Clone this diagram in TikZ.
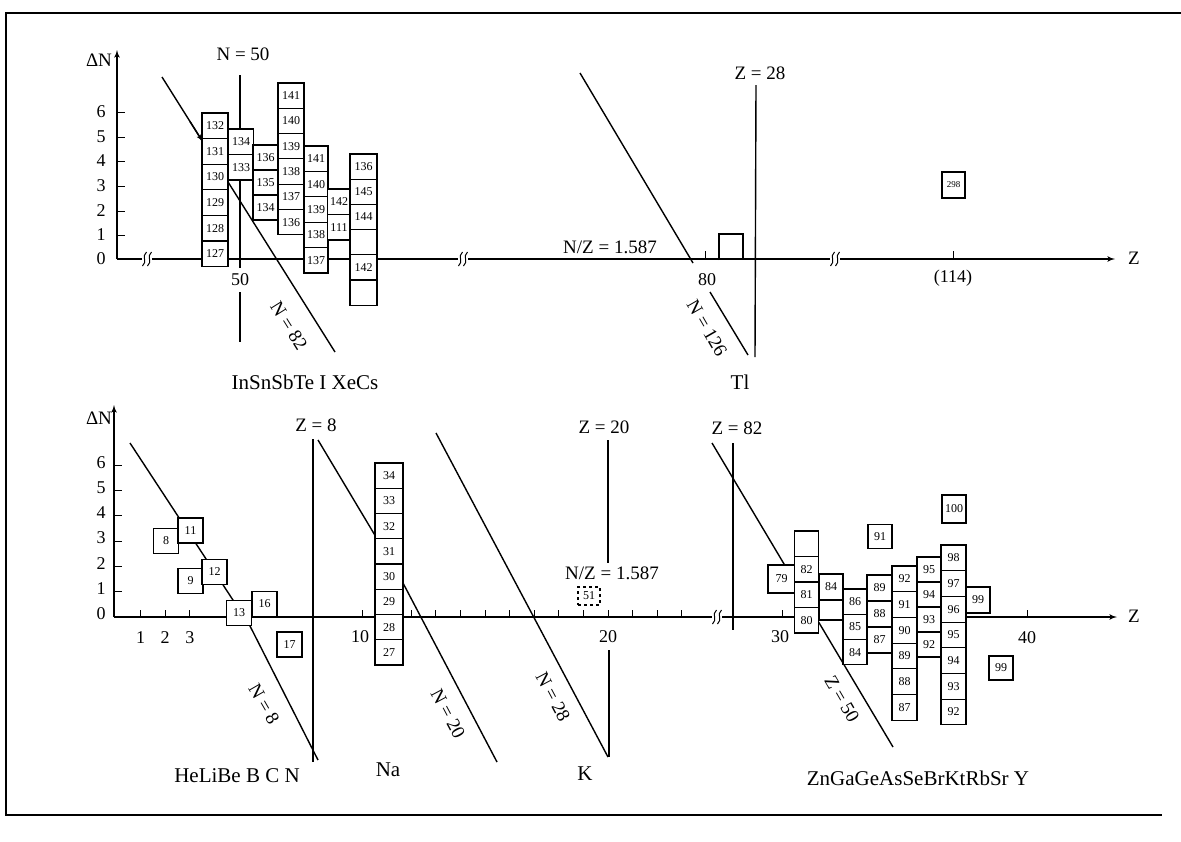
\documentclass[tikz,border=0pt]{standalone}
\usepackage{fontspec}
\setmainfont{Liberation Serif}
\usetikzlibrary{arrows}
\tikzstyle{nuc} = [draw, fill=white, rectangle, line width=1.1pt,
    minimum width=25, minimum height=25, inner sep=0pt, font=\fontsize{12}{12}\selectfont]
\tikzstyle{lbl} = [font=\fontsize{19}{19}\selectfont, inner sep=1pt]
\tikzstyle{elem} = [font=\fontsize{21}{21}\selectfont, inner sep=1pt]
\tikzstyle{ticklbl} = [font=\fontsize{18}{18}\selectfont, inner sep=1pt]
\tikzstyle{magic} = [line width=1.4pt]
\tikzstyle{axis} = [line width=1.6pt]

% one column of nuclide boxes: name, x, top, width, height, labels
\newcommand{\nucol}[6]{%
  \foreach \lab [count=\i] in {#6}
    \node [nuc, minimum width=#4, minimum height=#5] (#1-\i) at (#2, {#3+(\i-0.5)*#5}) {\lab};}
% axis break mark
\newcommand{\axbreak}[2]{%
  \fill [white] (#1-5,#2-2.5) rectangle (#1+5,#2+2.5);
  \foreach \s in {-2.5,2.5}
    \draw [line width=1pt] (#1+\s-2,#2+7) .. controls (#1+\s+3,#2+3) and (#1+\s-3,#2-3) .. (#1+\s+2,#2-7);}

\begin{document}
\begin{tikzpicture}[x=1pt, y=-1pt, >=latex']
    \useasboundingbox (0,0) rectangle (1181,841);
    \draw [line width=1.6pt] (1181,13) -- (6,13) -- (6,815) -- (1162,815);

    %%% upper chart
    \draw [axis,->] (117,259) -- (117,50);
    \draw [axis,->] (117,259) -- (1115,259);
    \node [lbl] (zt) at (1134,258) {Z};
    \node [lbl] (dnt) at (99,60) {ΔN};
    \foreach \k/\yy in {0/259,1/235,2/211,3/186,4/161,5/137,6/112} {
        \draw [line width=1pt] (117,\yy) -- (125,\yy);
        \node [ticklbl] (tt\k) at (101,\yy) {\k};
    }
    \axbreak{147}{259}
    \axbreak{463}{259}
    \axbreak{835}{259}

    % magic lines
    \draw [magic] (240,75) -- (240,268);
    \draw [magic] (240,292) -- (240,342);
    \draw [magic] (162,77) -- (335,352);
    \draw [magic] (580,73) -- (693,263);
    \draw [magic] (710,292) -- (748,355);
    \draw [magic] (756,85) -- (755,357);
    \draw [line width=1pt] (705,259) -- ++(0,-8);
    \draw [line width=1pt] (953,259) -- ++(0,-8);
    \draw [line width=1.2pt] (719,260) -- (719,234) -- (743,234) -- (743,260);

    % In ... Cs boxes
    \nucol{c1}{215}{113}{26}{25.6}{132,131,130,129,128,127}
    \nucol{c2}{241}{129}{25}{25.5}{134,133}
    \nucol{c3}{265.5}{145}{25}{25}{136,135,134}
    \nucol{c4}{291}{83}{26}{25.3}{141,140,139,138,137,136}
    \nucol{c5}{316}{146}{24}{25.4}{141,140,139,138,137}
    \nucol{c6}{339}{189}{23}{25.5}{142,111}
    \nucol{c7}{363.5}{154}{27}{25.2}{136,145,144,{},142,{}}
    \draw [magic,->] (190,121.5) -- (202.5,141.4);
    \node [nuc, minimum width=23, minimum height=26, font=\fontsize{9}{9}\selectfont] (b298) at (953.5,185) {298};

    \node [lbl] (n50) at (243,54) {N = 50};
    \node [ticklbl] (t50) at (240,280) {50};
    \node [lbl, rotate=-58] (n82) at (289,326) {N = 82};
    \node [lbl] (nzt) at (610,247) {N/Z = 1.587};
    \node [ticklbl] (t80) at (707,280) {80};
    \node [lbl] (z28) at (760,73) {Z = 28};
    \node [lbl, rotate=-60] (n126) at (707,328) {N = 126};
    \node [ticklbl] (t114) at (953,278) {(114)};
    \node [elem] (elt1) at (305,382) {InSnSbTe I XeCs};
    \node [elem] (elt2) at (740,382) {Tl};

    %%% lower chart
    \draw [axis,->] (114,617) -- (114,405);
    \draw [axis,->] (114,617) -- (1117,617);
    \node [lbl] (zb) at (1134,616) {Z};
    \node [lbl] (dnb) at (99,418) {ΔN};
    \foreach \k in {0,...,6} {
        \draw [line width=1pt] (114,{617-25.3*\k}) -- (122,{617-25.3*\k});
        \node [ticklbl] (tb\k) at (101,{614-25.3*\k}) {\k};
    }
    \foreach \z in {1,2,3,10,12,13,14,15,16,17,18,19,20,21,22,23}
        \draw [line width=1pt] ({116+24.6*\z},617) -- ++(0,-7);
    \draw [line width=1pt] (782,617) -- ++(0,-7);
    \draw [line width=1pt] (1027,617) -- ++(0,-7);
    \axbreak{717}{617}

    % magic lines
    \draw [magic] (130,443) -- (250,626) -- (318,760);
    \draw [magic] (313,439) -- (313,762);
    \draw [magic] (318,440) -- (376,537) -- (403,583) -- (497,762);
    \draw [magic] (436,433) -- (608,757);
    \draw [magic] (608,440) -- (608,563);
    \draw [magic] (609,650) -- (609,757);
    \draw [magic] (733,443) -- (733,630);
    \draw [magic] (712,443) -- (893,747);

    % light nuclei
    \node [nuc] (b8) at (166,541) {8};
    \node [nuc] (b11) at (190.5,530.5) {11};
    \node [nuc] (b9) at (190.5,581) {9};
    \node [nuc] (b12) at (214.5,572) {12};
    \node [nuc] (b13) at (239,613) {13};
    \node [nuc] (b16) at (264.5,604) {16};
    \node [nuc] (b17) at (289.5,644.5) {17};
    \nucol{na}{389}{463}{28}{25.25}{34,33,32,31,30,29,28,27}
    \node [nuc, dashed, minimum width=22, minimum height=18] (b51) at (589,596) {51};

    % Zn ... Y boxes
    \node [nuc, minimum width=27, minimum height=28] (b79) at (781.5,579) {79};
    \nucol{ca}{806.5}{531}{24}{25.5}{{},82,81,80}
    \node [nuc, minimum width=24, minimum height=26] (b84) at (831,587) {84};
    \node [nuc, minimum width=24, minimum height=20] (b84e) at (831,610) {};
    \nucol{cc}{855}{589}{24}{25.3}{86,85,84}
    \nucol{cd}{879.5}{575}{25}{26}{89,88,87}
    \node [nuc, minimum width=24, minimum height=24] (b91) at (880,536.5) {91};
    \nucol{ce}{904.5}{566}{25}{25.7}{92,91,90,89,88,87}
    \nucol{cf}{929}{557}{24}{25}{95,94,93,92}
    \nucol{cg}{953.5}{545}{25}{25.7}{98,97,96,95,94,93,92}
    \node [nuc, minimum width=24, minimum height=26] (b99) at (978,600) {99};
    \node [nuc, minimum width=24, minimum height=28] (b100) at (954,509) {100};
    \node [nuc, minimum width=24, minimum height=24] (b99b) at (1001,668) {99};

    \node [ticklbl] (t1) at (140.6,638) {1};
    \node [ticklbl] (t2) at (165.2,638) {2};
    \node [ticklbl] (t3) at (189.8,638) {3};
    \node [ticklbl] (t10) at (360,637) {10};
    \node [ticklbl] (t20) at (608,637) {20};
    \node [ticklbl] (t30) at (780,637) {30};
    \node [ticklbl] (t40) at (1027,638) {40};
    \node [lbl] (z8) at (316,425) {Z = 8};
    \node [lbl] (z20) at (604,427) {Z = 20};
    \node [lbl] (z82) at (737,428) {Z = 82};
    \node [lbl] (nzb) at (612,573) {N/Z = 1.587};
    \node [lbl, rotate=-60] (n8) at (264,704) {N = 8};
    \node [lbl, rotate=-62] (n20) at (448,714) {N = 20};
    \node [lbl, rotate=-62] (n28) at (553,697) {N = 28};
    \node [lbl, rotate=-60] (z50) at (842,699) {Z = 50};
    \node [elem] (elb1) at (237,776) {HeLiBe B C N};
    \node [elem] (elb2) at (388,770) {Na};
    \node [elem] (elb3) at (585,774) {K};
    \node [elem] (elb4) at (918,778) {ZnGaGeAsSeBrKtRbSr Y};
\end{tikzpicture}
\end{document}
